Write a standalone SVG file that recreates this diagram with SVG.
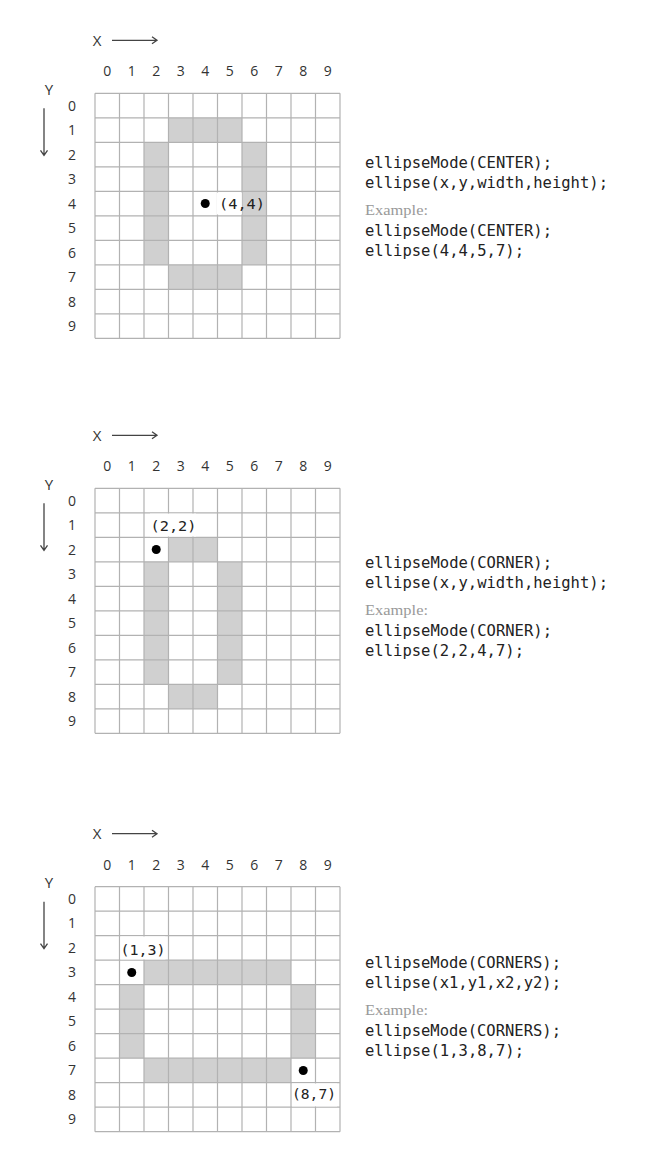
<svg xmlns="http://www.w3.org/2000/svg" xmlns:xlink="http://www.w3.org/1999/xlink" width="648" height="1170" viewBox="0 0 648 1170">
<style>
.cell{fill:#d0d0d0}
.gl{fill:none;stroke:#b2b2b2;stroke-width:1.2}
.num{font-family:"Open Sans","DejaVu Sans",sans-serif;font-size:14px;fill:#333;text-anchor:middle}
.ax{font-family:"Open Sans","DejaVu Sans",sans-serif;font-size:15px;fill:#333;text-anchor:middle}
.arr{fill:none;stroke:#444;stroke-width:1.3}
.code{font-family:"DejaVu Sans Mono","Liberation Mono",monospace;font-size:15px;fill:#222}
.ex{font-family:"Liberation Serif",serif;font-size:15.5px;fill:#999}
.pt{font-family:"DejaVu Sans Mono","Liberation Mono",monospace;font-size:14px;fill:#222}
.bg{fill:#fff}
.dot{fill:#000}
</style>
<defs>
<path id="gridlines" class="gl" d="M0 0H245M0 24.5H245M0 49H245M0 73.5H245M0 98H245M0 122.5H245M0 147H245M0 171.5H245M0 196H245M0 220.5H245M0 245H245M0 0V245M24.5 0V245M49 0V245M73.5 0V245M98 0V245M122.5 0V245M147 0V245M171.5 0V245M196 0V245M220.5 0V245M245 0V245"/>
<g id="labels">
<text class="num" x="12.25" y="-17">0</text>
<text class="num" x="36.75" y="-17">1</text>
<text class="num" x="61.25" y="-17">2</text>
<text class="num" x="85.75" y="-17">3</text>
<text class="num" x="110.25" y="-17">4</text>
<text class="num" x="134.75" y="-17">5</text>
<text class="num" x="159.25" y="-17">6</text>
<text class="num" x="183.75" y="-17">7</text>
<text class="num" x="208.25" y="-17">8</text>
<text class="num" x="232.75" y="-17">9</text>
<text class="num" x="-23" y="17.25">0</text>
<text class="num" x="-23" y="41.75">1</text>
<text class="num" x="-23" y="66.25">2</text>
<text class="num" x="-23" y="90.75">3</text>
<text class="num" x="-23" y="115.25">4</text>
<text class="num" x="-23" y="139.75">5</text>
<text class="num" x="-23" y="164.25">6</text>
<text class="num" x="-23" y="188.75">7</text>
<text class="num" x="-23" y="213.25">8</text>
<text class="num" x="-23" y="237.75">9</text>
<text class="ax" x="2" y="-47.5">X</text>
<text class="ax" x="-46" y="1.5">Y</text>
<path class="arr" d="M17 -53H62M57 -56.5L62 -53L57 -49.5"/>
<path class="arr" d="M-51 15V62M-54.5 57L-51 62L-47.5 57"/>
</g>
</defs>

<g id="grid-center" transform="translate(95,93.3)">
<rect class="cell" x="73.5" y="24.5" width="73.5" height="24.5"/>
<rect class="cell" x="49" y="49" width="24.5" height="122.5"/>
<rect class="cell" x="147" y="49" width="24.5" height="122.5"/>
<rect class="cell" x="73.5" y="171.5" width="73.5" height="24.5"/>
<use xlink:href="#gridlines"/>
<use xlink:href="#labels"/>
</g>

<g id="grid-corner" transform="translate(95,488.3)">
<rect class="cell" x="73.5" y="49" width="49" height="24.5"/>
<rect class="cell" x="49" y="73.5" width="24.5" height="122.5"/>
<rect class="cell" x="122.5" y="73.5" width="24.5" height="122.5"/>
<rect class="cell" x="73.5" y="196" width="49" height="24.5"/>
<use xlink:href="#gridlines"/>
<use xlink:href="#labels"/>
</g>

<g id="grid-corners" transform="translate(95,886.7)">
<rect class="cell" x="49" y="73.5" width="147" height="24.5"/>
<rect class="cell" x="24.5" y="98" width="24.5" height="73.5"/>
<rect class="cell" x="196" y="98" width="24.5" height="73.5"/>
<rect class="cell" x="49" y="171.5" width="147" height="24.5"/>
<use xlink:href="#gridlines"/>
<use xlink:href="#labels"/>
</g>

<g id="point-4-4">
<rect class="bg" x="216.8" y="192.5" width="25" height="22"/>
<circle class="dot" cx="205.25" cy="203.55" r="4.5"/>
<text class="pt" x="219" y="208.5" textLength="46" lengthAdjust="spacingAndGlyphs">(4,4)</text>
</g>
<g id="point-2-2">
<rect class="bg" x="150" y="513.6" width="46" height="22.9"/>
<circle class="dot" cx="156.25" cy="549.55" r="4.5"/>
<text class="pt" x="150.5" y="531" textLength="46" lengthAdjust="spacingAndGlyphs">(2,2)</text>
</g>
<g id="point-1-3">
<rect class="bg" x="120.4" y="936.5" width="45" height="22.9"/>
<circle class="dot" cx="131.75" cy="972.45" r="4.5"/>
<text class="pt" x="120.5" y="954.5" textLength="45" lengthAdjust="spacingAndGlyphs">(1,3)</text>
</g>
<g id="point-8-7">
<rect class="bg" x="292" y="1083.5" width="45" height="22.9"/>
<circle class="dot" cx="303.25" cy="1070.45" r="4.5"/>
<text class="pt" x="292" y="1098.5" textLength="44" lengthAdjust="spacingAndGlyphs">(8,7)</text>
</g>

<g id="code-center">
<text class="code" x="365" y="167.5" textLength="187" lengthAdjust="spacingAndGlyphs">ellipseMode(CENTER);</text>
<text class="code" x="365" y="187.5" textLength="243" lengthAdjust="spacingAndGlyphs">ellipse(x,y,width,height);</text>
<text class="ex" x="365" y="215" textLength="63" lengthAdjust="spacingAndGlyphs">Example:</text>
<text class="code" x="365" y="235.5" textLength="187" lengthAdjust="spacingAndGlyphs">ellipseMode(CENTER);</text>
<text class="code" x="365" y="255.5" textLength="159" lengthAdjust="spacingAndGlyphs">ellipse(4,4,5,7);</text>
</g>
<g id="code-corner">
<text class="code" x="365" y="567.5" textLength="187" lengthAdjust="spacingAndGlyphs">ellipseMode(CORNER);</text>
<text class="code" x="365" y="587.5" textLength="243" lengthAdjust="spacingAndGlyphs">ellipse(x,y,width,height);</text>
<text class="ex" x="365" y="615" textLength="63" lengthAdjust="spacingAndGlyphs">Example:</text>
<text class="code" x="365" y="635.5" textLength="187" lengthAdjust="spacingAndGlyphs">ellipseMode(CORNER);</text>
<text class="code" x="365" y="655.5" textLength="159" lengthAdjust="spacingAndGlyphs">ellipse(2,2,4,7);</text>
</g>
<g id="code-corners">
<text class="code" x="365" y="967.5" textLength="196" lengthAdjust="spacingAndGlyphs">ellipseMode(CORNERS);</text>
<text class="code" x="365" y="987.5" textLength="196" lengthAdjust="spacingAndGlyphs">ellipse(x1,y1,x2,y2);</text>
<text class="ex" x="365" y="1015" textLength="63" lengthAdjust="spacingAndGlyphs">Example:</text>
<text class="code" x="365" y="1035.5" textLength="196" lengthAdjust="spacingAndGlyphs">ellipseMode(CORNERS);</text>
<text class="code" x="365" y="1055.5" textLength="159" lengthAdjust="spacingAndGlyphs">ellipse(1,3,8,7);</text>
</g>
</svg>
